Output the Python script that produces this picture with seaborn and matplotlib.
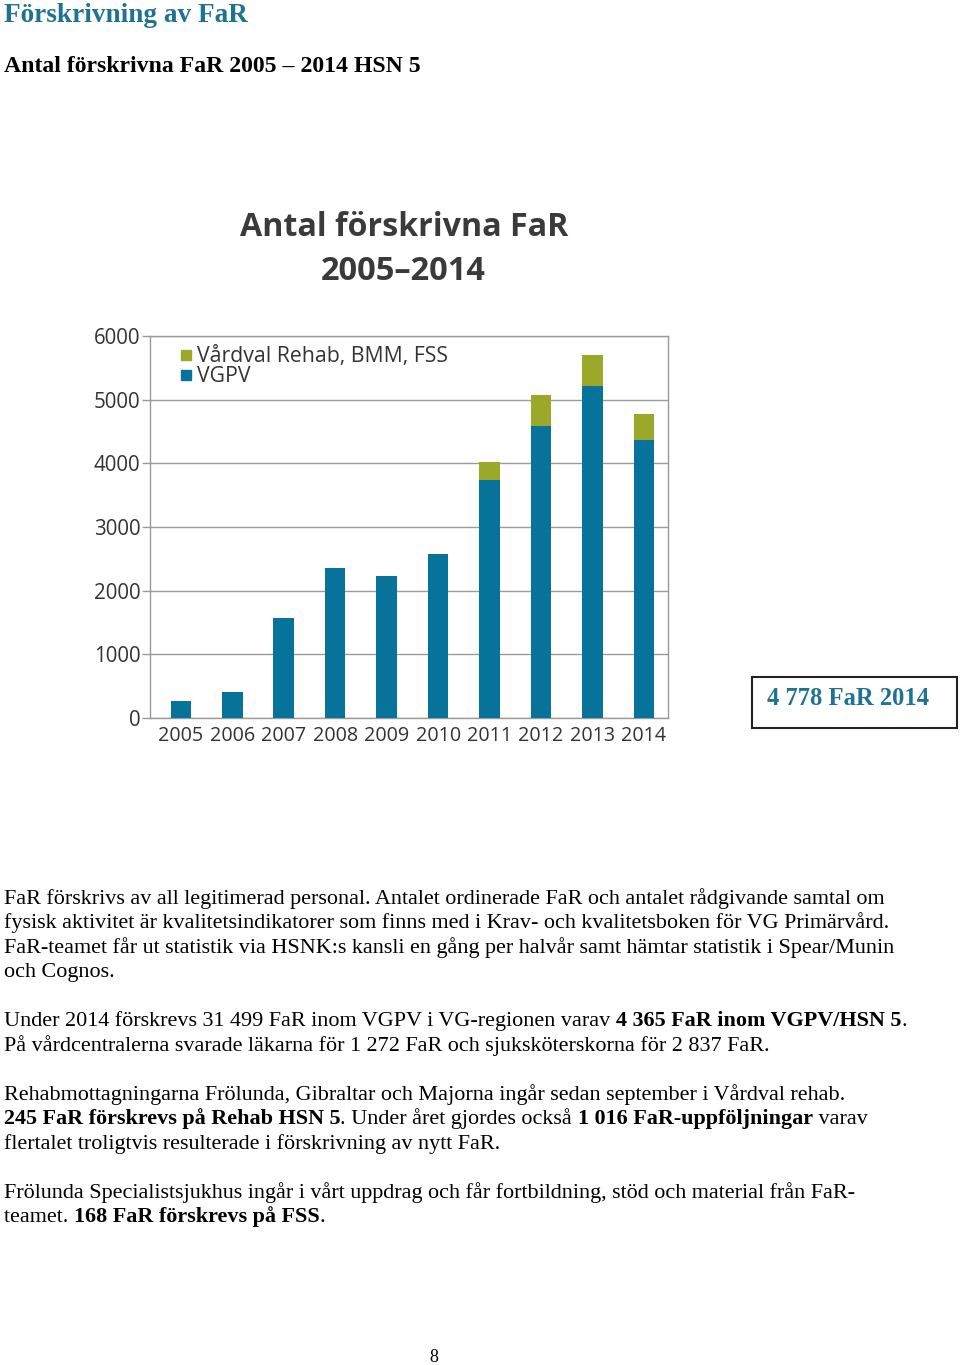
import matplotlib
matplotlib.use("Agg")
import matplotlib.pyplot as plt
import seaborn as sns
import pandas as pd
import numpy as np
from matplotlib.lines import Line2D

# ---------------- data ----------------
years = ["2005", "2006", "2007", "2008", "2009", "2010", "2011", "2012", "2013", "2014"]
vgpv = [268, 410, 1570, 2355, 2225, 2580, 3735, 4590, 5215, 4365]
rehab_bmm_fss = [0, 0, 0, 0, 0, 0, 285, 478, 492, 413]
y_ticks = [0, 1000, 2000, 3000, 4000, 5000, 6000]
series_labels = ["Vårdval Rehab, BMM, FSS", "VGPV"]

page_title = "Förskrivning av FaR"
page_subtitle = "Antal förskrivna FaR 2005 – 2014 HSN 5"
chart_title = ["Antal förskrivna FaR", "2005–2014"]
box_text = "4 778 FaR 2014"
body_paragraphs = [
    [[("FaR förskrivs av all legitimerad personal. Antalet ordinerade FaR och antalet rådgivande samtal om", False)],
     [("fysisk aktivitet är kvalitetsindikatorer som finns med i Krav- och kvalitetsboken för VG Primärvård.", False)],
     [("FaR-teamet får ut statistik via HSNK:s kansli en gång per halvår samt hämtar statistik i Spear/Munin", False)],
     [("och Cognos.", False)]],
    [[("Under 2014 förskrevs 31 499 FaR inom VGPV i VG-regionen varav ", False), ("4 365 FaR inom VGPV/HSN 5", True), (".", False)],
     [("På vårdcentralerna svarade läkarna för 1 272 FaR och sjuksköterskorna för 2 837 FaR.", False)]],
    [[("Rehabmottagningarna Frölunda, Gibraltar och Majorna ingår sedan september i Vårdval rehab.", False)],
     [("245 FaR förskrevs på Rehab HSN 5", True), (". Under året gjordes också ", False), ("1 016 FaR-uppföljningar", True), (" varav", False)],
     [("flertalet troligtvis resulterade i förskrivning av nytt FaR.", False)]],
    [[("Frölunda Specialistsjukhus ingår i vårt uppdrag och får fortbildning, stöd och material från FaR-", False)],
     [("teamet. ", False), ("168 FaR förskrevs på FSS", True), (".", False)]],
]
page_number = "8"

# ---------------- style ----------------
sns.set_theme(style="white")
SANS = ["Open Sans", "DejaVu Sans"]
SERIF = ["Liberation Serif", "DejaVu Serif"]
plt.rcParams["font.family"] = SANS

TEAL = "#08739A"
OLIVE = "#9CA82A"
HEAD_TEAL = "#1E7390"
GRID = "#9a9a9a"
DARK = "#333333"

W, H = 960, 1365
fig = plt.figure(figsize=(W / 100, H / 100), dpi=100)
fig.patch.set_facecolor("white")


def fx(x):
    return x / W


def fy(y):
    return 1 - y / H


# ---------------- chart ----------------
ax_l, ax_r, ax_t, ax_b = 150, 668, 336, 718
ax = fig.add_axes([fx(ax_l), fy(ax_b), (ax_r - ax_l) / W, (ax_b - ax_t) / H])

df = pd.DataFrame({"year": years, "vgpv": vgpv, "other": rehab_bmm_fss})
df["total"] = df["vgpv"] + df["other"]

sns.barplot(data=df, x="year", y="total", color=OLIVE, width=0.4, ax=ax,
            saturation=1, linewidth=0, zorder=3)
sns.barplot(data=df, x="year", y="vgpv", color=TEAL, width=0.4, ax=ax,
            saturation=1, linewidth=0, zorder=4)

ax.set_xlim(-0.6, 9.47)
ax.set_ylim(0, 6000)
ax.set_yticks(y_ticks)
ax.set_yticklabels([str(t) for t in y_ticks], fontsize=14.8, color=DARK)
ax.set_xticks(range(len(years)))
ax.set_xticklabels(years, fontsize=14.2, color=DARK)
ax.set_xlabel("")
ax.set_ylabel("")
ax.yaxis.grid(True, color=GRID, linewidth=1.0, zorder=0)
ax.set_axisbelow(True)
for side in ["left", "right", "top", "bottom"]:
    ax.spines[side].set_visible(True)
    ax.spines[side].set_color(GRID)
    ax.spines[side].set_linewidth(1.0)
ax.tick_params(axis="y", length=6, width=1, color=GRID, pad=1, left=True)
ax.tick_params(axis="x", length=0, pad=6)

handles = [Line2D([0], [0], marker="s", linestyle="none", markersize=7,
                  markerfacecolor=OLIVE, markeredgecolor=OLIVE),
           Line2D([0], [0], marker="s", linestyle="none", markersize=7,
                  markerfacecolor=TEAL, markeredgecolor=TEAL)]
leg = ax.legend(handles, series_labels, loc="upper left", bbox_to_anchor=(0.04, 0.995),
                frameon=False, fontsize=15.3, handlelength=0.6, handletextpad=0.25,
                labelspacing=-0.05, borderaxespad=0)
for t in leg.get_texts():
    t.set_color(DARK)

fig.text(fx(404), fy(227), chart_title[0], ha="center", va="center",
         fontsize=23.2, fontweight="bold", color="#3a3a3a", family=SANS)
fig.text(fx(403), fy(272), chart_title[1], ha="center", va="center",
         fontsize=23.5, fontweight="bold", color="#3a3a3a", family=SANS)

# ---------------- page text ----------------
fig.text(fx(4), fy(15), page_title, ha="left", va="center", fontsize=19.6,
         fontweight="bold", color=HEAD_TEAL, family=SERIF)
fig.text(fx(4), fy(66), page_subtitle, ha="left", va="center", fontsize=17.1,
         fontweight="bold", color="black", family=SERIF)

# box
bx0, by0, bx1, by1 = 752, 677, 957, 728
fig.patches.append(plt.Rectangle((fx(bx0), fy(by1)), (bx1 - bx0) / W, (by1 - by0) / H,
                                 transform=fig.transFigure, fill=False,
                                 edgecolor="#222222", linewidth=1.5))
fig.text(fx(848), fy(699), box_text, ha="center", va="center", fontsize=17.7,
         fontweight="bold", color=HEAD_TEAL, family=SERIF)

# body paragraphs
renderer = fig.canvas.get_renderer()
line_ys = [[899, 923, 948, 972], [1021, 1046], [1095, 1119, 1144], [1193, 1217]]
BODY_FS = 15.9
for para, ys in zip(body_paragraphs, line_ys):
    for segs, y in zip(para, ys):
        x = 4.0
        for txt, bold in segs:
            t = fig.text(fx(x), fy(y), txt, ha="left", va="center", fontsize=BODY_FS,
                         fontweight="bold" if bold else "normal", color="black",
                         family=SERIF)
            bb = t.get_window_extent(renderer=renderer)
            x += bb.width

fig.text(fx(434), fy(1357), page_number, ha="center", va="center", fontsize=13,
         color="black", family=SERIF)

fig.savefig("out.png", dpi=100, facecolor="white")
